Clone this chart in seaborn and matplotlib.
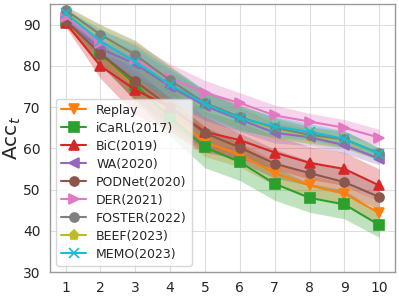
import numpy as np
import matplotlib
matplotlib.use("Agg")
import matplotlib.pyplot as plt
import seaborn as sns

# --- dados ---
tasks = [1, 2, 3, 4, 5, 6, 7, 8, 9, 10]

methods = ["Replay", "iCaRL(2017)", "BiC(2019)", "WA(2020)", "PODNet(2020)",
           "DER(2021)", "FOSTER(2022)", "BEEF(2023)", "MEMO(2023)"]

replay = [90.5, 83.0, 75.0, 68.5, 61.5, 58.5, 54.0, 51.0, 49.0, 44.3]
icarl = [91.0, 83.0, 75.5, 67.5, 60.3, 56.7, 51.4, 48.0, 46.4, 41.4]
bic = [90.5, 80.0, 74.2, 70.0, 64.0, 62.0, 59.0, 56.5, 55.0, 51.0]
wa = [91.0, 84.2, 80.5, 75.0, 70.3, 67.0, 63.8, 62.7, 60.8, 57.5]
podnet = [91.0, 83.0, 76.3, 70.0, 63.7, 60.2, 56.3, 54.0, 51.8, 48.2]
der = [92.0, 85.5, 81.5, 77.0, 73.5, 71.0, 68.0, 66.5, 65.0, 62.6]
foster = [93.6, 87.6, 82.7, 76.5, 71.0, 67.6, 65.0, 63.3, 62.2, 58.8]
beef = [93.4, 87.4, 82.5, 76.3, 70.8, 67.4, 64.8, 63.1, 62.0, 58.6]
memo = [92.8, 86.0, 81.0, 75.5, 70.8, 67.3, 65.3, 64.0, 62.3, 58.6]

# desvio (meia largura das faixas)
replay_sd = [1.0, 2.5, 3.5, 4.0, 3.5, 3.0, 3.0, 2.5, 2.5, 2.5]
icarl_sd = [1.0, 2.5, 4.0, 4.5, 5.0, 4.5, 4.0, 3.5, 3.5, 3.0]
bic_sd = [1.0, 3.0, 6.0, 6.0, 5.0, 4.5, 4.0, 4.0, 4.0, 4.0]
wa_sd = [1.0, 2.0, 3.5, 4.0, 3.5, 3.0, 2.5, 2.0, 2.0, 1.5]
podnet_sd = [1.0, 3.0, 4.5, 4.5, 4.0, 3.5, 3.5, 3.0, 3.0, 3.0]
der_sd = [1.5, 3.0, 4.0, 3.5, 3.0, 2.5, 2.5, 2.0, 2.0, 2.0]
foster_sd = [1.0, 2.5, 3.5, 3.5, 3.0, 3.0, 2.5, 2.0, 2.0, 1.5]
beef_sd = [1.0, 2.5, 3.5, 3.5, 3.0, 3.0, 2.5, 2.0, 2.0, 1.5]
memo_sd = [1.0, 3.0, 4.0, 4.0, 3.5, 3.0, 2.5, 2.0, 2.0, 1.5]

means = [replay, icarl, bic, wa, podnet, der, foster, beef, memo]
sds = [replay_sd, icarl_sd, bic_sd, wa_sd, podnet_sd, der_sd, foster_sd, beef_sd, memo_sd]
markers = ["v", "s", "^", "<", "o", ">", "o", "p", "x"]
colors = ["C1", "C2", "C3", "C4", "C5", "C6", "C7", "C8", "C9"]

sns.set_style("whitegrid")
plt.rcParams["font.family"] = ["DejaVu Sans"]

fig = plt.figure(figsize=(3.99, 2.96), dpi=100)
ax = fig.add_axes([0.125, 0.081, 0.865, 0.905])

for name, m, s, mk, c in zip(methods, means, sds, markers, colors):
    m = np.array(m)
    s = np.array(s)
    z = 1.9 if name.startswith("BEEF") else 2
    ax.fill_between(tasks, m - s, m + s, color=c, alpha=0.3, linewidth=0, zorder=1)
    sns.lineplot(x=tasks, y=m, marker=mk, color=c, label=name, ax=ax,
                 markersize=6.5, markeredgecolor=c, markeredgewidth=1.2,
                 linewidth=1.5, zorder=z)

ax.set_ylim(30, 95)
ax.set_xticks(tasks)
ax.set_yticks([30, 40, 50, 60, 70, 80, 90])
ax.tick_params(labelsize=10, pad=3)
ax.set_ylabel(r"Acc$_t$", fontsize=14.5, labelpad=0)
ax.grid(True, color="0.87", linewidth=0.8)
for sp in ax.spines.values():
    sp.set_color("0.6")
    sp.set_linewidth(1.0)

ax.legend(loc="lower left", fontsize=9, framealpha=0.8, labelspacing=0.4)

fig.savefig("out.png", dpi=100)
